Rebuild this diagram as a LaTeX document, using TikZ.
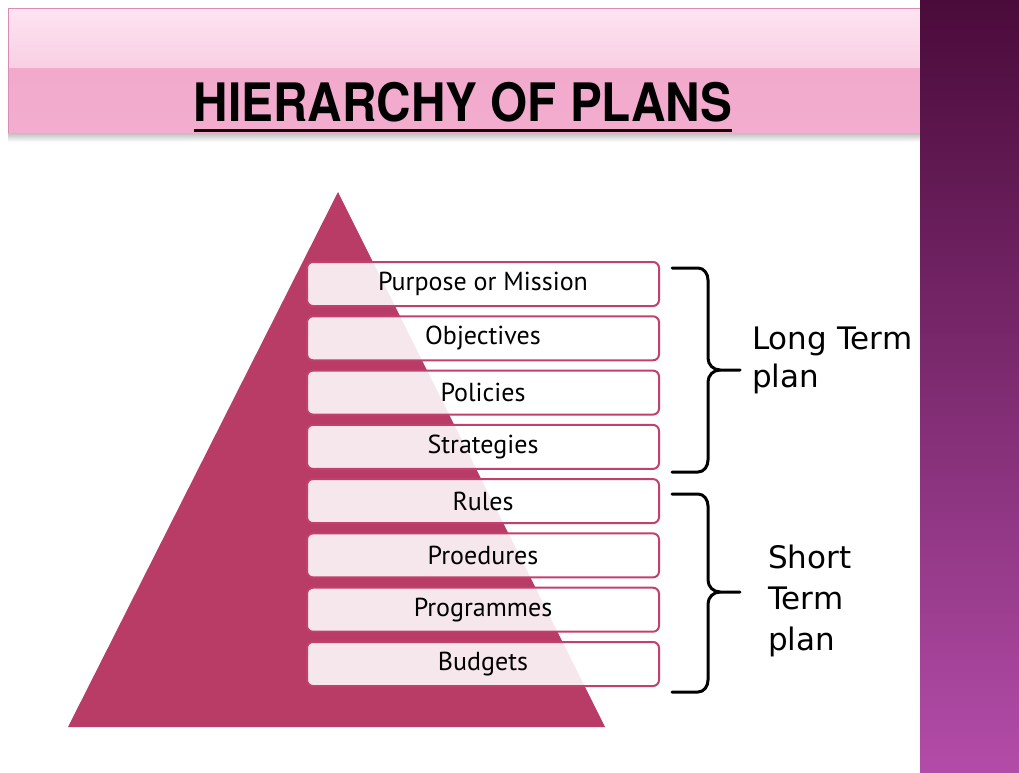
\documentclass[tikz,border=0pt]{standalone}
\usepackage{fontspec}
\setmainfont{PT Sans}
\newfontfamily\titlefont[FakeStretch=0.9]{TeX Gyre Heros}
\newfontfamily\handfont{DejaVu Sans}
\definecolor{trifill}{HTML}{B83C66}
\definecolor{boxline}{HTML}{C2406E}
\definecolor{bantop}{HTML}{FDE4F1}
\definecolor{banmid}{HTML}{F8CFE3}
\definecolor{banlow}{HTML}{F2A9CC}
\definecolor{banedge}{HTML}{D98CB4}
\definecolor{striptop}{HTML}{4A0B3A}
\definecolor{stripbot}{HTML}{B34CA8}
\tikzset{
  plan/.style={draw=boxline, line width=2pt, fill=white, fill opacity=0.88,
    text opacity=1, rounded corners=6pt, minimum width=352pt,
    minimum height=44pt, inner sep=0pt, font=\fontsize{26}{30}\selectfont},
  brace/.style={line width=3pt, line cap=round, line join=round},
  term/.style={align=left, anchor=north west, inner sep=0pt,
    font=\handfont\fontsize{31}{38}\selectfont}
}
\begin{document}
\begin{tikzpicture}[x=1pt,y=-1pt]
	\useasboundingbox (0,0) rectangle (1019,772);
	\fill[white] (0,0) rectangle (1019,772);
	% banner
	\shade[top color=bantop, bottom color=banmid] (8,8) rectangle (920,68);
	\shade[top color=banlow, bottom color=banlow!90!banmid] (8,68) rectangle (920,133);
	\draw[banedge, line width=0.8pt] (8,133) -- (8,8) -- (920,8);
	\shade[top color=black!25, bottom color=white] (8,133) rectangle (920,142);
	\node (Ti) at (463,102) [font=\titlefont\bfseries\fontsize{53}{60}\selectfont, inner sep=0pt] {HIERARCHY OF PLANS};
	\draw[line width=3.5pt, black!90!red] ([yshift=-9pt]Ti.base west) -- ([yshift=-9pt]Ti.base east);
	% side strip
	\shade[top color=striptop, bottom color=stripbot] (920,0) rectangle (1019,772);
	% pyramid
	\fill[trifill] (338,192) -- (605,727) -- (68,727) -- cycle;
	\node (Pu) at (483,284) [plan] {Purpose or Mission};
	\node (Ob) at (483,338.3) [plan] {Objectives};
	\node (Po) at (483,392.6) [plan] {Policies};
	\node (St) at (483,446.9) [plan] {Strategies};
	\node (Ru) at (483,501.1) [plan] {Rules};
	\node (Pr) at (483,555.4) [plan] {Proedures};
	\node (Pg) at (483,609.7) [plan] {Programmes};
	\node (Bu) at (483,664) [plan] {Budgets};
	% braces
	\draw[brace] (672,268) -- (698,268) to[out=0,in=90] (708,280) -- (708,358)
		to[out=-90,in=180] (720,370) -- (740,370);
	\draw[brace] (720,370) to[out=180,in=90] (708,382) -- (708,460)
		to[out=-90,in=0] (698,472) -- (672,472);
	\draw[brace] (672,494) -- (698,494) to[out=0,in=90] (708,506) -- (708,580)
		to[out=-90,in=180] (720,592) -- (740,592);
	\draw[brace] (720,592) to[out=180,in=90] (708,604) -- (708,680)
		to[out=-90,in=0] (698,692) -- (672,692);
	\node (Lt) at (752,327) [term] {Long Term\\plan};
	\node (Sh) at (768,545) [term, font=\handfont\fontsize{31}{41}\selectfont] {Short\\Term\\plan};
\end{tikzpicture}
\end{document}
